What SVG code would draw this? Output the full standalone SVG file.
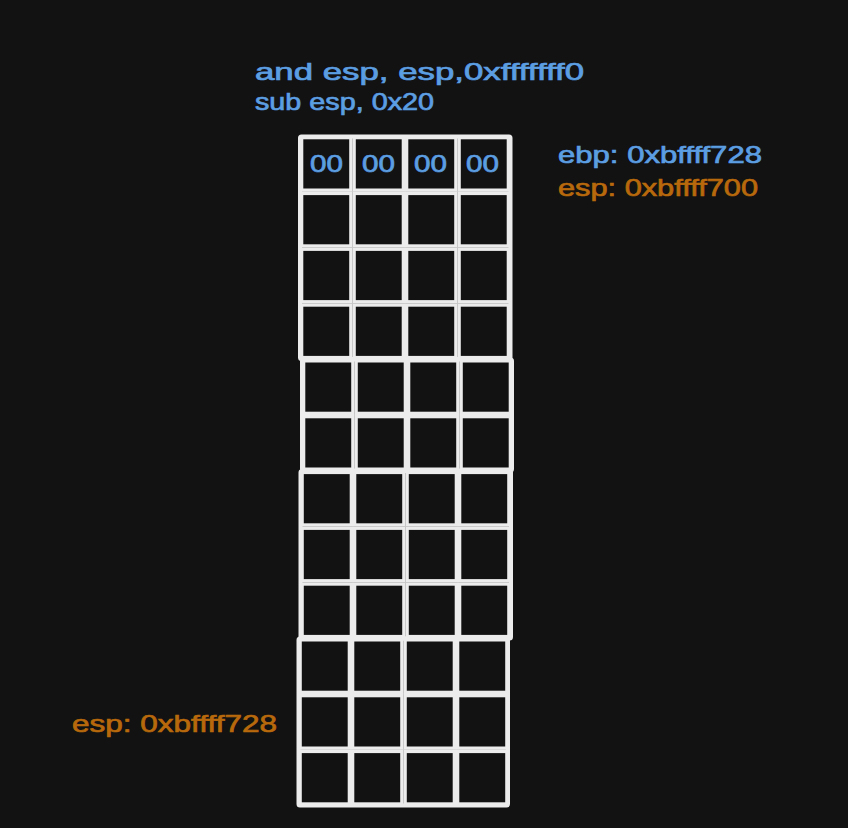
<svg xmlns="http://www.w3.org/2000/svg" xmlns:xlink="http://www.w3.org/1999/xlink" width="848" height="828" viewBox="0 0 848 828">
<style>
.cell{fill:#121212;stroke:#ececec;stroke-width:3.4}
.frame{fill:none;stroke:#ececec;stroke-width:4}
.t{font-family:"Liberation Sans","DejaVu Sans",sans-serif;font-size:24px;stroke-width:0.7}
.blue{fill:#5c9ee2;stroke:#5c9ee2}
.orange{fill:#b8690c;stroke:#b8690c}
</style>
<defs>
<g id="row">
<rect class="cell" x="1.6" y="1.6" width="49.3" height="52.6"/>
<rect class="cell" x="54.1" y="1.6" width="49.3" height="52.6"/>
<rect class="cell" x="106.6" y="1.6" width="49.3" height="52.6"/>
<rect class="cell" x="159.1" y="1.6" width="49.3" height="52.6"/>
</g>
</defs>
<rect width="848" height="828" fill="#121212"/>
<g id="block1">
<use xlink:href="#row" x="300" y="136"/>
<use xlink:href="#row" x="300" y="191.8"/>
<use xlink:href="#row" x="300" y="247.6"/>
<use xlink:href="#row" x="300" y="303.4"/>
<rect class="frame" x="300" y="136.5" width="210.5" height="222.5" rx="1.5"/>
</g>
<g id="block2">
<use xlink:href="#row" x="302" y="359.2"/>
<use xlink:href="#row" x="302" y="415"/>
<rect class="frame" x="302" y="359.5" width="210" height="111" rx="1.5"/>
</g>
<g id="block3">
<use xlink:href="#row" x="300.5" y="470.8"/>
<use xlink:href="#row" x="300.5" y="526.6"/>
<use xlink:href="#row" x="300.5" y="582.4"/>
<rect class="frame" x="300.5" y="471" width="210.5" height="167.5" rx="1.5"/>
</g>
<g id="block4">
<use xlink:href="#row" x="298.5" y="638.2"/>
<use xlink:href="#row" x="298.5" y="694"/>
<use xlink:href="#row" x="298.5" y="749.8"/>
<rect class="frame" x="298.5" y="638.5" width="209.5" height="167" rx="1.5"/>
</g>
<g id="bytes">
<text class="t blue" x="326.5" y="172" text-anchor="middle" font-size="27" textLength="33" lengthAdjust="spacingAndGlyphs">00</text>
<text class="t blue" x="378.5" y="172" text-anchor="middle" font-size="27" textLength="33" lengthAdjust="spacingAndGlyphs">00</text>
<text class="t blue" x="430.5" y="172" text-anchor="middle" font-size="27" textLength="33" lengthAdjust="spacingAndGlyphs">00</text>
<text class="t blue" x="482.5" y="172" text-anchor="middle" font-size="27" textLength="33" lengthAdjust="spacingAndGlyphs">00</text>
</g>
<g id="instructions">
<text class="t blue" x="255" y="80" textLength="329" lengthAdjust="spacingAndGlyphs">and esp, esp,0xfffffff0</text>
<text class="t blue" x="255" y="110" textLength="179" lengthAdjust="spacingAndGlyphs">sub esp, 0x20</text>
</g>
<g id="registers">
<text class="t blue" x="558" y="163" textLength="204" lengthAdjust="spacingAndGlyphs">ebp: 0xbffff728</text>
<text class="t orange" x="558" y="196" textLength="200" lengthAdjust="spacingAndGlyphs">esp: 0xbffff700</text>
<text class="t orange" x="72" y="732" textLength="205" lengthAdjust="spacingAndGlyphs">esp: 0xbffff728</text>
</g>
</svg>
